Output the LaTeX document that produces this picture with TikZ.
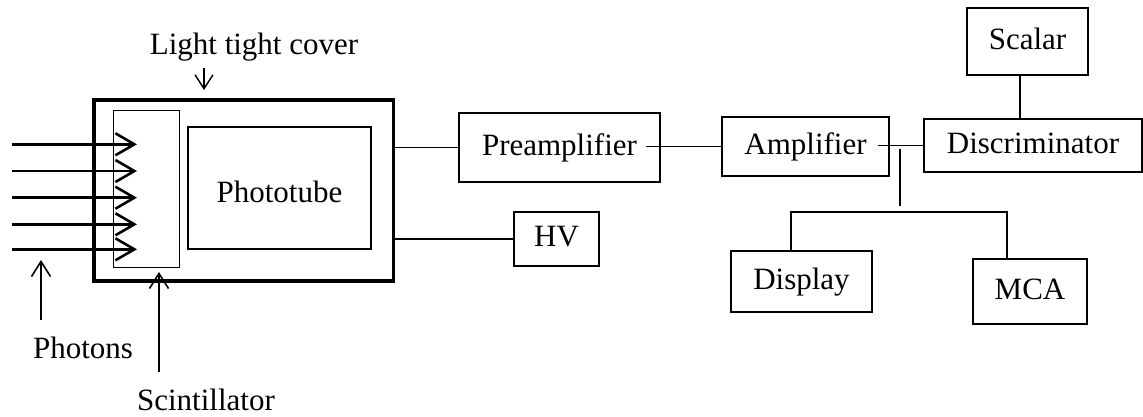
\documentclass[tikz,border=0pt]{standalone}
\usepackage{fontspec}
\setmainfont{Liberation Serif}
\usetikzlibrary{arrows.meta,calc}

\tikzset{
  box/.style={draw, line width=1.4pt, inner sep=0pt, align=center,
    font=\fontsize{31}{37}\selectfont, text height=21pt, text depth=6pt},
  lbl/.style={inner sep=0pt, anchor=base, font=\fontsize{31}{37}\selectfont},
  wire/.style={line width=1.4pt},
  photon/.style={line width=2.6pt, -{Straight Barb[length=19pt,width=22pt]}},
  pointer/.style={line width=1.6pt, -{Straight Barb[length=15pt,width=19pt]}}
}

\begin{document}
\begin{tikzpicture}[x=1pt, y=-1pt]
  \useasboundingbox[fill=white] (0,0) rectangle (1143,416);

  % detector head: light tight cover, scintillator and phototube
  \node[draw, line width=3.6pt, minimum width=299.5pt, minimum height=181pt, inner sep=0pt]
    (cover) at (243.75,190.5) {};
  \node[draw, line width=1pt, minimum width=66pt, minimum height=157pt, inner sep=0pt]
    (scint) at (146,188.5) {};
  \node[box, minimum width=183pt, minimum height=122pt, text height=35pt]
    (tube) at (279.5,188) {Phototube};

  % incoming photons
  \foreach \yy [count=\i] in {144.3,171,197.7,224.3,249.3} {
    \coordinate (ph\i s) at (12,\yy);
    \coordinate (ph\i e) at (137,\yy);
    \draw[photon] (ph\i s) -- (ph\i e);
  }

  % electronics chain
  \node[box, minimum width=201pt, minimum height=69pt]  (pre)  at (559.5,147.5) {Preamplifier};
  \node[box, minimum width=167pt, minimum height=59pt]  (amp)  at (805.5,146.5) {Amplifier};
  \node[box, minimum width=218pt, minimum height=53pt]  (disc) at (1033,145.5)  {Discriminator};
  \node[box, minimum width=121pt, minimum height=67pt]  (scal) at (1027.5,41.5) {Scalar};
  \node[box, minimum width=85pt,  minimum height=54pt]  (hv)   at (556.5,239)   {HV};
  \node[box, minimum width=141pt, minimum height=61pt]  (disp) at (801.5,281.5) {Display};
  \node[box, minimum width=114pt, minimum height=65pt]  (mca)  at (1030,291.5)  {MCA};

  % signal and supply wiring
  \draw[wire] (cover.east |- pre.west) -- (pre.west);
  \draw[wire] (cover.east |- hv.west) -- (hv.west);
  \draw[wire] ([xshift=-15pt]pre.east |- amp.west) -- (amp.west);
  \draw[wire] ([xshift=-12pt]amp.east |- disc.west) -- (disc.west);
  \draw[wire] ([xshift=-7.5pt]scal.south) -- ([xshift=-7.5pt]scal.south |- disc.north);

  \coordinate (tapTop) at (900,149);
  \coordinate (tapEnd) at (900,206);
  \coordinate (bus) at (900,212);
  \draw[wire] (tapTop) -- (tapEnd);
  \draw[wire] ([xshift=-10.5pt]disp.north) |- (bus) -| ([xshift=-23pt]mca.north);

  % labels with pointers
  \node[lbl] (ltc) at (254,54) {Light tight cover};
  \coordinate (ltcTail) at (204,68);
  \coordinate (ltcTip) at (204,90);
  \draw[line width=1.4pt, -{Straight Barb[length=14pt,width=18pt]}] (ltcTail) -- (ltcTip);

  \node[lbl] (phl) at (83,358) {Photons};
  \coordinate (phTail) at (41,320);
  \coordinate (phTip) at (41,260);
  \draw[pointer] (phTail) -- (phTip);

  \node[lbl] (scl) at (206,410) {Scintillator};
  \coordinate (scTail) at (159,372);
  \coordinate (scTip) at (159,272);
  \draw[pointer] (scTail) -- (scTip);
\end{tikzpicture}
\end{document}
